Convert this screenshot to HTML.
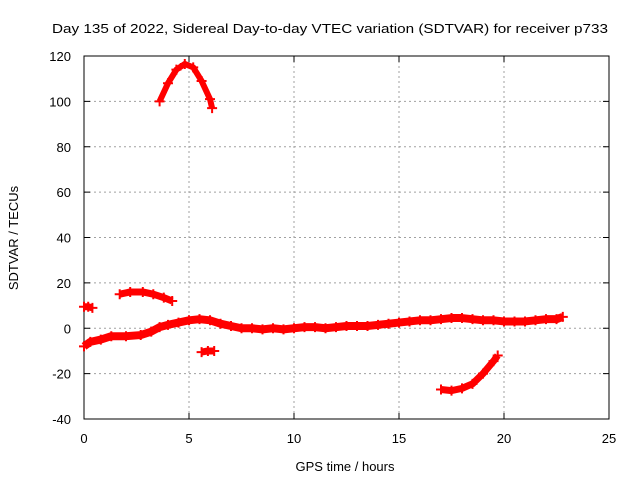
<!DOCTYPE html>
<html><head><meta charset="utf-8"><style>
body{margin:0;background:#fff}
svg{display:block;font-family:"Liberation Sans",sans-serif;font-size:13px}
</style></head><body>
<svg id="chart" width="640" height="480" viewBox="0 0 640 480">
<text x="330" y="33" text-anchor="middle" textLength="556" lengthAdjust="spacingAndGlyphs">Day 135 of 2022, Sidereal Day-to-day VTEC variation (SDTVAR) for receiver p733</text>
<g id="grid"></g>
<g id="axes"></g>
<g id="series"></g>
<text x="345" y="471" text-anchor="middle">GPS time / hours</text>
<text transform="translate(18,238) rotate(-90)" text-anchor="middle">SDTVAR / TECUs</text>
</svg>
<script>
const xTicks=[0,5,10,15,20,25];
const yTicks=[-40,-20,0,20,40,60,80,100,120];
const mainX=[0,0.3,0.8,1.3,2,2.7,3.2,3.6,4,4.5,5,5.5,6,6.5,7,7.5,8,8.5,9,9.5,10,10.5,11,11.5,12,12.5,13,13.5,14,14.5,15,15.5,16,16.5,17,17.5,18,18.5,19,19.5,20,20.5,21,21.5,22,22.5,22.8];
const mainY=[-8,-6,-5,-3.5,-3.5,-3,-1.5,0.5,1.5,2.5,3.5,4,3.5,2,1,0,0,-0.5,0,-0.5,0,0.5,0.5,0,0.5,1,1,1,1.5,2,2.5,3,3.5,3.5,4,4.5,4.5,4,3.5,3.5,3,3,3,3.5,4,4,5];
const seg2X=[0,0.2,0.4], seg2Y=[9.5,9.5,9];
const seg3X=[1.7,2.2,2.8,3.3,3.8,4.2], seg3Y=[15,16,16,15,13.5,12];
const seg4X=[5.6,5.9,6.2], seg4Y=[-10.5,-10,-10];
const seg5X=[3.6,4,4.4,4.8,5.2,5.6,6,6.1], seg5Y=[100,108,114,116.5,115,109,101,97];
const seg6X=[17,17.5,18,18.5,19,19.5,19.7], seg6Y=[-27,-27.5,-26.5,-24.5,-20,-14.5,-12];
const L=84,R=609,T=56,B=419;
const sx=v=>L+(v-0)/25*(R-L);
const sy=v=>B-(v+40)/160*(B-T);
const NS="http://www.w3.org/2000/svg";
function mk(tag,parent){const e=document.createElementNS(NS,tag);parent.appendChild(e);return e;}
const grid=document.getElementById('grid'),axes=document.getElementById('axes'),ser=document.getElementById('series');
xTicks.forEach(t=>{
  if(t>0&&t<25){const g=mk('line',grid);
  
  
  g.setAttribute('x1',sx(t));g.setAttribute('x2',sx(t));g.setAttribute('y1',T);g.setAttribute('y2',B);
  g.setAttribute('stroke','#a0a0a0');g.setAttribute('stroke-dasharray','2,3');}
  const tk=mk('text',axes);
  
  
  tk.setAttribute('x',sx(t));tk.setAttribute('y',B+24);tk.setAttribute('text-anchor','middle');tk.textContent=t;
  const m=mk('path',axes);
  
  
  m.setAttribute('d',`M${sx(t)},${B}v-6M${sx(t)},${T}v6`);m.setAttribute('stroke','#000');
});
yTicks.forEach(t=>{
  if(t>-40&&t<120){const g=mk('line',grid);
  
  
  g.setAttribute('x1',L);g.setAttribute('x2',R);g.setAttribute('y1',sy(t));g.setAttribute('y2',sy(t));
  g.setAttribute('stroke','#a0a0a0');g.setAttribute('stroke-dasharray','2,3');}
  const tk=mk('text',axes);
  
  
  tk.setAttribute('x',L-13);tk.setAttribute('y',sy(t)+5);tk.setAttribute('text-anchor','end');tk.textContent=t;
  const m=mk('path',axes);
  
  
  m.setAttribute('d',`M${L},${sy(t)}h6M${R},${sy(t)}h-6`);m.setAttribute('stroke','#000');
});
const fr=mk('rect',axes);


fr.setAttribute('x',L);fr.setAttribute('y',T);fr.setAttribute('width',R-L);fr.setAttribute('height',B-T);fr.setAttribute('fill','none');fr.setAttribute('stroke','#000');
function draw(xs,ys,name,w){
  const p=mk('polyline',ser);
  
  
  p.setAttribute('points',xs.map((x,i)=>sx(x)+','+sy(ys[i])).join(' '));
  p.setAttribute('fill','none');p.setAttribute('stroke','#ff0000');p.setAttribute('stroke-width',w);p.setAttribute('stroke-linejoin','round');
  xs.forEach((x,i)=>{const m=mk('path',ser);
    
    
    const cx=sx(x),cy=sy(ys[i]);
    m.setAttribute('d',`M${cx-5},${cy}h10M${cx},${cy-5}v10`);m.setAttribute('stroke','#ff0000');m.setAttribute('stroke-width','2');});
}
draw(mainX,mainY,'main-series',8);
draw(seg2X,seg2Y,'segment-start',7);
draw(seg3X,seg3Y,'segment-early-high',7);
draw(seg4X,seg4Y,'segment-negative-small',7);
draw(seg5X,seg5Y,'segment-peak-arc',6);
draw(seg6X,seg6Y,'segment-late-negative',7);
</script>
</body></html>
